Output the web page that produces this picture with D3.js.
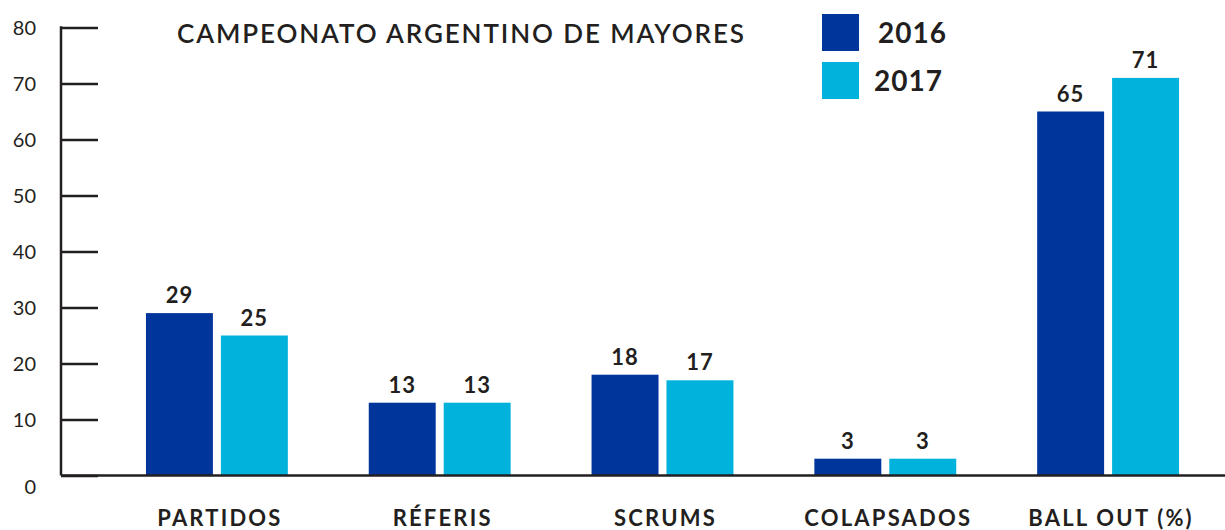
<!DOCTYPE html>
<html><head><meta charset="utf-8">
<script src="https://cdn.jsdelivr.net/npm/d3@7"></script>
<style>
html,body{margin:0;padding:0;background:#fff;}
svg{display:block;}
</style></head>
<body>
<svg id="chart" width="1225" height="530"></svg>
<script>
const categories = ["PARTIDOS", "RÉFERIS", "SCRUMS", "COLAPSADOS", "BALL OUT (%)"];
const seriesNames = ["2016", "2017"];
const values2016 = [29, 13, 18, 3, 65];
const values2017 = [25, 13, 17, 3, 71];
const yTicks = [0, 10, 20, 30, 40, 50, 60, 70, 80];
const title = "CAMPEONATO ARGENTINO DE MAYORES";

const colors = {"2016": "#00359c", "2017": "#00b2dc"};
const ink = "#231f20";
const svg = d3.select("#chart");

const series = [values2016, values2017];
const rows = categories.map((c, i) => ({cat: c, vals: seriesNames.map((s, j) => ({s, v: series[j][i]}))}));

const y = d3.scaleLinear().domain([0, 80]).range([475.5, 27.5]);
const x0 = d3.scaleBand().domain(categories).range([105.5, 1219.5]).paddingInner(0.3632).paddingOuter(0.1816);
const x1 = d3.scaleBand().domain(seriesNames).range([0, x0.bandwidth()]).paddingInner(0.1067);

// bars
const g = svg.append("g");
const groups = g.selectAll("g.grp").data(rows).join("g").attr("class", "grp")
  .attr("transform", d => `translate(${x0(d.cat)},0)`);
groups.selectAll("rect").data(d => d.vals).join("rect")
  .attr("x", d => x1(d.s)).attr("width", x1.bandwidth())
  .attr("y", d => y(d.v)).attr("height", d => y(0) - y(d.v))
  .attr("fill", d => colors[d.s]);
groups.selectAll("text").data(d => d.vals).join("text")
  .attr("x", d => x1(d.s) + x1.bandwidth() / 2)
  .attr("y", d => y(d.v) - 10)
  .attr("text-anchor", "middle")
  .attr("font-family", "Lato, sans-serif").attr("font-weight", 700)
  .attr("font-size", 22).attr("fill", ink)
  .attr("letter-spacing", 1)
  .text(d => d.v);

// y axis
const yAxis = d3.axisRight(y).tickValues(yTicks).tickSize(37).tickFormat("");
const ya = svg.append("g").attr("transform", "translate(61,0)").call(yAxis);
ya.select(".domain").remove();
ya.selectAll(".tick line").attr("stroke", ink).attr("stroke-width", 2.5);
svg.append("line").attr("x1", 61).attr("x2", 61).attr("y1", y(80) - 1.25).attr("y2", y(0))
  .attr("stroke", ink).attr("stroke-width", 2.5);
svg.selectAll("text.ytl").data(yTicks).join("text").attr("class", "ytl")
  .attr("x", 36).attr("y", d => y(d) + 7 + (d === 0 ? 11 : 0))
  .attr("text-anchor", "end")
  .attr("font-family", "Lato, sans-serif").attr("font-weight", 400)
  .attr("font-size", 20).attr("fill", ink)
  .text(d => d);

// baseline
svg.append("line").attr("x1", 61).attr("x2", 1225).attr("y1", y(0)).attr("y2", y(0))
  .attr("stroke", ink).attr("stroke-width", 2.5);

// category labels
svg.selectAll("text.cat").data(categories).join("text").attr("class", "cat")
  .attr("x", d => x0(d) + x0.bandwidth() / 2 + 3)
  .attr("y", 526)
  .attr("text-anchor", "middle")
  .attr("font-family", "Lato, sans-serif").attr("font-weight", 700)
  .attr("font-size", 22).attr("letter-spacing", 2.2).attr("fill", ink)
  .text(d => d);

// title
svg.append("text").attr("x", 177).attr("y", 43)
  .attr("font-family", "Lato, sans-serif").attr("font-weight", 600)
  .attr("font-size", 26).attr("fill", ink)
  .attr("textLength", 567).attr("lengthAdjust", "spacing")
  .text(title);

// legend
const leg = svg.selectAll("g.leg").data(seriesNames).join("g").attr("class", "leg")
  .attr("transform", (d, i) => `translate(822,${14 + i * 48})`);
leg.append("rect").attr("width", 37).attr("height", 37).attr("fill", d => colors[d]);
leg.append("text").attr("x", d => d === "2016" ? 56 : 52).attr("y", 29)
  .attr("font-family", "Lato, sans-serif").attr("font-weight", 700)
  .attr("font-size", 28).attr("fill", ink).attr("letter-spacing", 1)
  .text(d => d);
</script>
</body></html>
